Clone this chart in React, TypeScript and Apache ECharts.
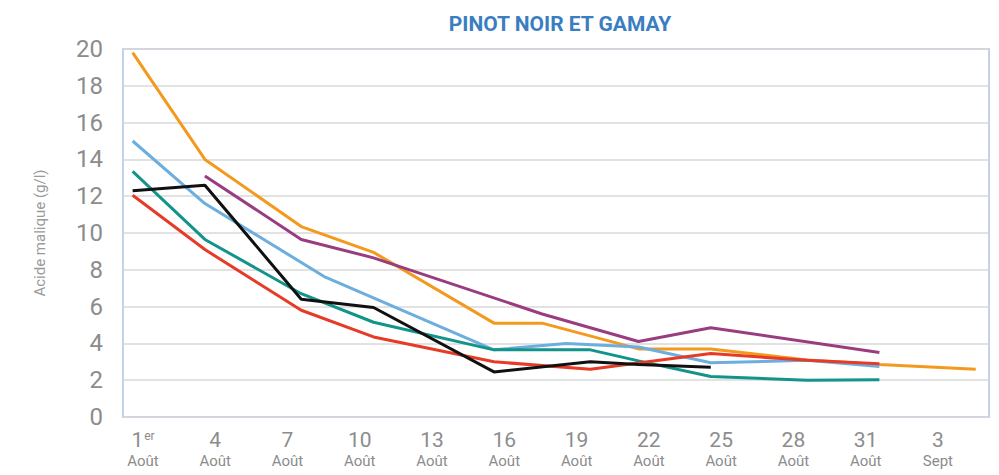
import React, { useEffect, useRef } from "react";
import * as echarts from "echarts";

const TITLE = "PINOT NOIR ET GAMAY";
const Y_NAME = "Acide malique (g/l)";

// x axis labels (day index: 1 = 1er Août ... 34 = 3 Sept)
const labelDays = [1, 4, 7, 10, 13, 16, 19, 22, 25, 28, 31, 34];
const labelNums = ["1", "4", "7", "10", "13", "16", "19", "22", "25", "28", "31", "3"];
const labelSups = ["er", "", "", "", "", "", "", "", "", "", "", ""];
const labelMonths = ["Août", "Août", "Août", "Août", "Août", "Août", "Août", "Août", "Août", "Août", "Août", "Sept"];
const LABEL_SHIFT = 0.43;

// series (day index, malic acid g/l)
const orangeDays = [1, 4, 8, 11, 16, 18, 22, 25, 29, 32, 36];
const orangeVals = [19.8, 14.0, 10.35, 8.95, 5.1, 5.1, 3.7, 3.7, 3.1, 2.85, 2.6];

const purpleDays = [4, 8, 11, 18, 22, 25, 32];
const purpleVals = [13.1, 9.65, 8.65, 5.6, 4.1, 4.85, 3.5];

const blueDays = [1, 4, 9, 16, 19, 22, 25, 29, 32];
const blueVals = [15.0, 11.6, 7.6, 3.65, 4.0, 3.8, 2.95, 3.08, 2.75];

const tealDays = [1, 4, 8, 11, 16, 20, 22, 25, 29, 32];
const tealVals = [13.35, 9.65, 6.7, 5.15, 3.65, 3.65, 3.05, 2.2, 2.0, 2.02];

const redDays = [1, 4, 8, 11, 16, 20, 25, 29, 32];
const redVals = [12.05, 9.1, 5.8, 4.35, 3.0, 2.6, 3.45, 3.08, 2.9];

const blackDays = [1, 4, 8, 11, 16, 20, 22, 25];
const blackVals = [12.3, 12.6, 6.4, 5.95, 2.45, 3.0, 2.85, 2.7];

const seriesDefs = [
  { name: "orange", days: orangeDays, vals: orangeVals, color: "#F39A1E" },
  { name: "purple", days: purpleDays, vals: purpleVals, color: "#9A3C80" },
  { name: "blue", days: blueDays, vals: blueVals, color: "#6DAEDF" },
  { name: "teal", days: tealDays, vals: tealVals, color: "#12948A" },
  { name: "red", days: redDays, vals: redVals, color: "#E63B27" },
  { name: "black", days: blackDays, vals: blackVals, color: "#111111" },
];

const GRAY = "#8c8c8c";
const FONT = "Roboto, 'Noto Sans', sans-serif";

export default function App() {
  const ref = useRef<HTMLDivElement>(null);
  useEffect(() => {
    if (!ref.current) return;
    const chart = echarts.init(ref.current, null, { renderer: "svg" });
    chart.setOption({
      animation: false,
      backgroundColor: "#ffffff",
      textStyle: { fontFamily: FONT },
      title: {
        text: TITLE,
        left: 555,
        textAlign: "center",
        top: 8,
        textStyle: { color: "#3A7EC2", fontSize: 21, fontWeight: "bold", fontFamily: FONT },
      },
      grid: {
        left: 123,
        right: 10,
        top: 49,
        bottom: 58,
        show: true,
        borderColor: "#C3D2EC",
        borderWidth: 2,
        containLabel: false,
      },
      xAxis: {
        type: "value",
        min: 0.6,
        max: 36.55,
        axisLine: { show: false },
        axisTick: { show: false },
        splitLine: { show: false },
        axisLabel: {
          customValues: labelDays.map((d) => d + LABEL_SHIFT),
          margin: 11,
          formatter: (value: number) => {
            const i = labelDays.findIndex((d) => Math.abs(d + LABEL_SHIFT - value) < 0.01);
            if (i < 0) return "";
            const sup = labelSups[i] ? `{s|${labelSups[i]}}` : "";
            return `{n|${labelNums[i]}}${sup}\n{m|${labelMonths[i]}}`;
          },
          rich: {
            n: { fontSize: 21, color: GRAY, lineHeight: 24, fontFamily: FONT },
            s: { fontSize: 12, color: GRAY, lineHeight: 14, verticalAlign: "top", fontFamily: FONT, padding: [2, 0, 0, 1] },
            m: { fontSize: 15, color: GRAY, lineHeight: 18, fontFamily: FONT },
          },
        },
      },
      yAxis: {
        type: "value",
        min: 0,
        max: 20,
        interval: 2,
        name: Y_NAME,
        nameLocation: "middle",
        nameGap: 76,
        nameRotate: 90,
        nameTextStyle: { color: "#9a9a9a", fontSize: 15, fontFamily: FONT },
        axisLine: { show: false },
        axisTick: { show: false },
        axisLabel: { color: GRAY, fontSize: 24, margin: 20, fontFamily: FONT },
        splitLine: { lineStyle: { color: "#d9d9d9", width: 1.5 } },
      },
      series: seriesDefs.map((s) => ({
        name: s.name,
        type: "line",
        symbol: "none",
        showSymbol: false,
        data: s.days.map((d, i) => [d, s.vals[i]]),
        lineStyle: { color: s.color, width: 3 },
        itemStyle: { color: s.color },
      })),
    });
    return () => chart.dispose();
  }, []);
  return (
    <div
      ref={ref}
      style={{ position: "fixed", left: 0, top: 0, width: 999, height: 475, background: "#fff" }}
    />
  );
}
